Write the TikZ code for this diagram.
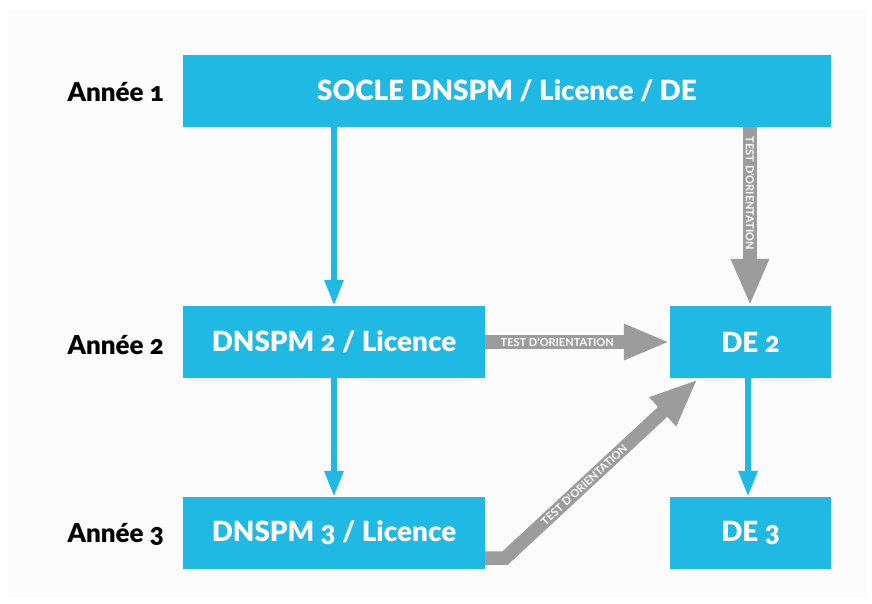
\documentclass[tikz,border=0pt]{standalone}
\usepackage{fontspec}
\setmainfont{Lato}[Numbers=OldStyle]
\newfontfamily\latoblack{Lato Black}[Numbers=OldStyle]
\usetikzlibrary{arrows.meta,calc}
\definecolor{boxblue}{HTML}{1FB9E3}
\definecolor{arrowgrey}{HTML}{9C9C9C}
\definecolor{bggrey}{HTML}{FDFCFC}
\begin{document}
\begin{tikzpicture}[x=1pt,y=-1pt,
  bluebox/.style={rectangle, fill=boxblue, draw=none, text=white, inner sep=0pt,
    minimum height=72pt, font=\latoblack\fontsize{27.8}{31}\selectfont},
  yearlabel/.style={anchor=east, text=black, inner sep=0pt, font=\latoblack\fontsize{26}{29}\selectfont},
  bluearrow/.style={draw=boxblue, line width=6pt, -{Triangle[width=18pt,length=26pt]}},
  greyarrow/.style={draw=arrowgrey, line width=13.5pt, line join=miter, -{Triangle[width=35pt,length=47pt]}},
  arrowtext/.style={text=white, inner sep=0pt, font=\bfseries\fontsize{11}{12}\selectfont}
]
\useasboundingbox (0,0) rectangle (872,603);
\fill[white] (0,0) rectangle (872,603);
\fill[bggrey] (7,10) rectangle (866,597);

\node[bluebox, minimum width=648pt] (socle) at (507,91) {SOCLE DNSPM / Licence / DE};
\node[bluebox, minimum width=302pt] (d2) at (334,342) {DNSPM 2 / Licence};
\node[bluebox, minimum width=161pt] (de2) at (750.5,342) {DE 2};
\node[bluebox, minimum width=302pt] (d3) at (334,533) {DNSPM 3 / Licence};
\node[bluebox, minimum width=161pt] (de3) at (750.5,533) {DE 3};

\node[yearlabel] (y1) at (164,92) {Année 1};
\node[yearlabel] (y2) at (164,345) {Année 2};
\node[yearlabel] (y3) at (164,534) {Année 3};

\draw[bluearrow] (d2.north |- socle.south) -- (d2.north);
\draw[bluearrow] (d2.south) -- (d3.north);
\draw[bluearrow] (de2.south -| 748,0) -- (de3.north -| 748,0);

\coordinate (gvtop) at (socle.south -| 750,0);
\coordinate (gvbot) at (de2.north -| 750,0);
\draw[greyarrow] (gvtop) -- node[arrowtext, sloped, pos=0.37] {TEST D'ORIENTATION} (gvbot);

\coordinate (ghl) at (d2.east);
\coordinate (ghr) at (de2.west);
\draw[greyarrow, -{Triangle[width=33pt,length=46pt]}] (ghl) -- node[arrowtext, pos=0.39] {TEST D'ORIENTATION} (ghr);

\coordinate (gds) at ($(d3.east)+(0,25)$);
\coordinate (gdb) at ($(gds)+(20,0)$);
\coordinate (gde) at ($(de2.south west)+(28,1)$);
\draw[greyarrow, -{Triangle[width=36pt,length=48pt]}] (gds) -- (gdb) -- node[arrowtext, sloped, pos=0.41] {TEST D'ORIENTATION} (gde);
\end{tikzpicture}
\end{document}
